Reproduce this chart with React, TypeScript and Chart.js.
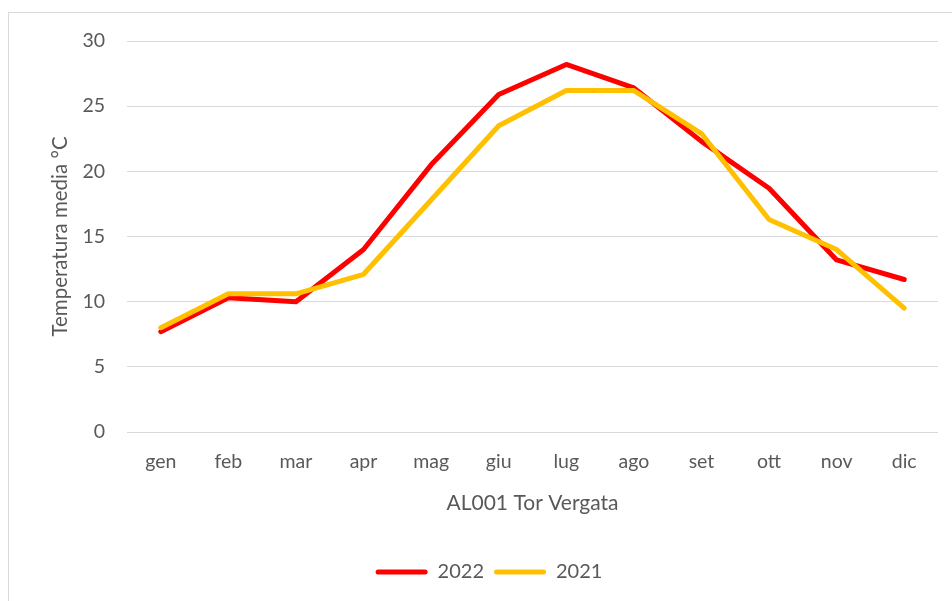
import React, { useEffect, useRef } from "react";
import { Chart, registerables } from "chart.js";

Chart.register(...registerables);

const months = ["gen", "feb", "mar", "apr", "mag", "giu", "lug", "ago", "set", "ott", "nov", "dic"];
const temp2022 = [7.7, 10.3, 10.0, 14.0, 20.5, 25.9, 28.2, 26.4, 22.3, 18.7, 13.2, 11.7];
const temp2021 = [8.0, 10.6, 10.6, 12.1, 17.8, 23.5, 26.2, 26.2, 22.9, 16.3, 14.0, 9.5];
const yTicks = [0, 5, 10, 15, 20, 25, 30];

const FONT = "Lato, 'Open Sans', sans-serif";
const TEXT = "#595959";

export default function App() {
  const ref = useRef<HTMLCanvasElement | null>(null);

  useEffect(() => {
    if (!ref.current) return;
    const chart = new Chart(ref.current, {
      type: "line",
      data: {
        labels: months,
        datasets: [
          {
            label: "2022",
            data: temp2022,
            borderColor: "#ff0000",
            backgroundColor: "#ff0000",
            borderWidth: 5,
            borderJoinStyle: "round",
            borderCapStyle: "round",
            pointRadius: 0,
            tension: 0,
            order: 1,
          },
          {
            label: "2021",
            data: temp2021,
            borderColor: "#ffc000",
            backgroundColor: "#ffc000",
            borderWidth: 5,
            borderJoinStyle: "round",
            borderCapStyle: "round",
            pointRadius: 0,
            tension: 0,
            order: 0,
          },
        ],
      },
      options: {
        animation: false,
        responsive: false,
        maintainAspectRatio: false,
        layout: { padding: { left: 40, right: 14, top: 41, bottom: 9 } },
        plugins: {
          tooltip: { enabled: false },
          legend: {
            position: "bottom",
            labels: {
              sort: (a: any, b: any) => a.datasetIndex - b.datasetIndex,
              generateLabels: (c: any) =>
                (Chart.defaults.plugins.legend.labels.generateLabels as any)(c).map((l: any) => ({
                  ...l,
                  lineWidth: 0,
                  borderRadius: 2.5,
                })),
              useBorderRadius: true,
              boxWidth: 52,
              boxHeight: 5,
              color: TEXT,
              font: { family: FONT, size: 20 },
              padding: 10,
            },
          },
        },
        scales: {
          x: {
            offset: true,
            grid: { display: false, drawTicks: false },
            border: { display: false },
            ticks: { color: TEXT, font: { family: FONT, size: 19.5 }, padding: 18, maxRotation: 0 },
            title: {
              display: true,
              text: "AL001 Tor Vergata",
              color: TEXT,
              font: { family: FONT, size: 21 },
              padding: { top: 0, bottom: 36 },
            },
            afterFit: (s: any) => {
              s.height = 120;
            },
          },
          y: {
            min: 0,
            max: 30,
            afterBuildTicks: (s: any) => {
              s.ticks = yTicks.map((v) => ({ value: v }));
            },
            grid: { color: "#d9d9d9", lineWidth: 1, drawTicks: false },
            border: { display: false },
            ticks: { color: TEXT, font: { family: FONT, size: 19.5 }, padding: 22 },
            title: {
              display: true,
              text: "Temperatura media °C",
              color: TEXT,
              font: { family: FONT, size: 20.5 },
              padding: { top: 8, bottom: 0 },
            },
            afterFit: (s: any) => {
              s.width = 87;
            },
          },
        },
      },
    });
    return () => chart.destroy();
  }, []);

  return (
    <div style={{ position: "fixed", left: 0, top: 0, width: 952, height: 601, background: "#fff", overflow: "hidden" }}>
      <div
        style={{
          position: "absolute",
          left: 8,
          top: 12,
          width: 960,
          height: 600,
          borderLeft: "1px solid #d9d9d9",
          borderTop: "1px solid #d9d9d9",
        }}
      />
      <canvas ref={ref} width={952} height={601} style={{ position: "absolute", left: 0, top: 0 }} />
    </div>
  );
}
